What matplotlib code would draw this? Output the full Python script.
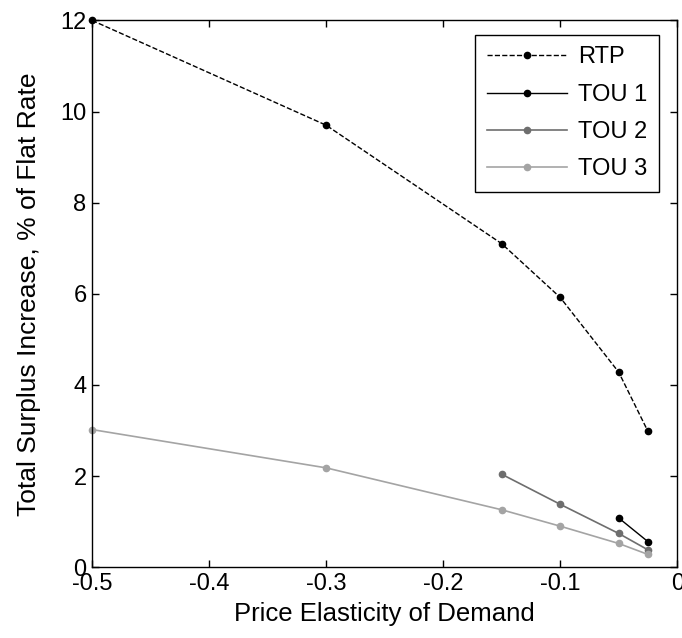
import matplotlib
matplotlib.use("Agg")
import matplotlib.pyplot as plt

plt.rcParams['font.family'] = ['Liberation Sans', 'DejaVu Sans']

rtp_x = [-0.5, -0.3, -0.15, -0.1, -0.05, -0.025]
rtp_y = [12.0, 9.7, 7.1, 5.92, 4.28, 2.98]

tou1_x = [-0.05, -0.025]
tou1_y = [1.08, 0.56]

tou2_x = [-0.15, -0.1, -0.05, -0.025]
tou2_y = [2.04, 1.38, 0.74, 0.38]

tou3_x = [-0.5, -0.3, -0.15, -0.1, -0.05, -0.025]
tou3_y = [3.02, 2.18, 1.26, 0.9, 0.52, 0.28]

fig = plt.figure(figsize=(6.82, 6.38), dpi=100)
ax = fig.add_axes([0.135, 0.111, 0.858, 0.857])

ax.plot(rtp_x, rtp_y, '--', color='black', marker='o', markersize=4.5, lw=1, label='RTP', clip_on=False)
ax.plot(tou1_x, tou1_y, '-', color='black', marker='o', markersize=4.5, lw=1, label='TOU 1', clip_on=False)
ax.plot(tou2_x, tou2_y, '-', color='#6e6e6e', marker='o', markersize=4.5, lw=1.2, label='TOU 2', clip_on=False)
ax.plot(tou3_x, tou3_y, '-', color='#a4a4a4', marker='o', markersize=4.5, lw=1.2, label='TOU 3', clip_on=False)

ax.set_xlim(-0.5, 0)
ax.set_ylim(0, 12)
ax.set_xticks([-0.5, -0.4, -0.3, -0.2, -0.1, 0])
ax.set_xticklabels(['-0.5', '-0.4', '-0.3', '-0.2', '-0.1', '0'])
ax.set_yticks([0, 2, 4, 6, 8, 10, 12])
ax.tick_params(direction='in', top=True, right=True, labelsize=17, length=5, width=1)
ax.tick_params(axis='x', pad=4)
ax.tick_params(axis='y', pad=4)
for s in ax.spines.values():
    s.set_linewidth(1)

ax.set_xlabel('Price Elasticity of Demand', fontsize=18.5, labelpad=5)
ax.set_ylabel('Total Surplus Increase, % of Flat Rate', fontsize=19, labelpad=14)

leg = ax.legend(loc='upper right', fontsize=17, fancybox=False, edgecolor='black',
                framealpha=1, handlelength=3.4, handletextpad=0.45, borderpad=0.5,
                labelspacing=0.65, borderaxespad=0, bbox_to_anchor=(0.969, 0.974))
leg.get_frame().set_linewidth(1)

fig.savefig('out.png', dpi=100)
